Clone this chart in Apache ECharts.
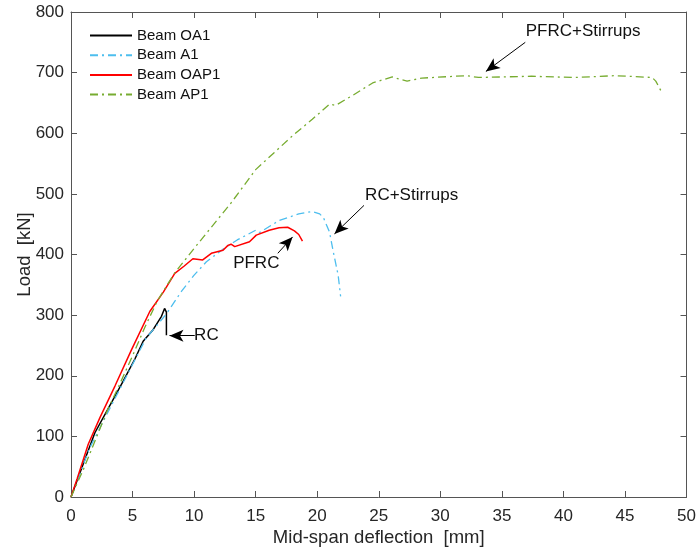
<!DOCTYPE html>
<html>
<head>
<meta charset="utf-8">
<script src="https://cdn.jsdelivr.net/npm/echarts@6/dist/echarts.min.js"></script>
<style>html,body{margin:0;padding:0;background:#fff}#c{width:699px;height:552px}</style>
</head>
<body>
<div id="c"></div>
<script>
// Beam OA1 (RC)
var oa1 = [[0,0],[1,55],[1.94,106],[3.43,161],[4.24,191],[5.2,228],[5.86,257],[6.67,276],[7.35,298],[7.6,311],[7.75,305],[7.75,267]];
// Beam A1 (RC + stirrups)
var a1 = [[0,0],[1.5,80],[3,140],[4.5,199],[6.1,262],[7.75,302],[9,340],[10,366],[11,388],[12.3,408],[13.5,424],[15,440],[15.3,436],[16.9,456],[18.5,467],[19.6,471],[20.2,467],[20.5,461],[21,437],[21.3,405],[21.7,366],[21.9,331]];
// Beam OAP1 (PFRC)
var oap1 = [[0,0],[0.5,30],[1.4,87],[2.35,131],[3.57,183],[4.92,243],[6.4,306],[7.5,338],[8.43,369],[9.2,381],[9.9,393],[10.7,391],[11.4,402],[12.35,407],[12.75,415],[13.0,417],[13.3,413],[14.5,421],[15.05,432],[16.1,440],[16.9,444],[17.6,445],[18.15,439],[18.5,433],[18.8,422]];
// Beam AP1 (PFRC + stirrups)
var ap1 = [[0,0],[1,45],[2,95],[3,145],[4,188],[5,233],[6,280],[7,323],[8.4,369],[10,410],[12,460],[13,485],[15,540],[16.5,568],[18,596],[19.6,623],[21,648],[21.5,646],[23,664],[24.5,683],[26.1,693],[26.7,689],[27.3,686],[28.5,691],[32.1,695],[33.1,692],[37.4,694],[41,692],[44.2,695],[47.2,692],[47.5,686],[48,667]];

var seriesNames = ['Beam OA1','Beam A1','Beam OAP1','Beam AP1'];
var xTicks = [0,5,10,15,20,25,30,35,40,45,50];
var yTicks = [0,100,200,300,400,500,600,700,800];

// annotations: text, text position, arrow tail, arrow head (data coords)
var annotTexts = ['RC','PFRC','RC+Stirrups','PFRC+Stirrups'];
var annotTextPos = [[10.0,266],[15.05,385],[27.67,498],[41.6,768]];
var annotAlign = ['left','center','center','center'];
var arrowTails = [[10.05,266],[16.8,402],[23.8,481],[36.9,750]];
var arrowHeads = [[8.0,266],[18.0,429],[21.4,434],[33.7,702]];

var chart = echarts.init(document.getElementById('c'), null, {renderer:'canvas'});
var FONT = '"Liberation Sans", Arial, Helvetica, sans-serif';
var axisCol = '#555';
var txtCol = '#262626';

function mkAxisX(pos, show){
  return {type:'value', min:xTicks[0], max:xTicks[xTicks.length-1], interval:xTicks[1]-xTicks[0], position:pos,
    axisLine:{show:true, onZero:false, lineStyle:{color:axisCol, width:1}},
    axisTick:{show:true, inside:true, length:6, lineStyle:{color:axisCol}},
    axisLabel:{show:show, color:txtCol, fontSize:17, fontFamily:FONT, margin:11},
    splitLine:{show:false},
    name: show ? 'Mid-span deflection  [mm]' : '', nameLocation:'middle', nameGap:31, nameMoveOverlap:false,
    nameTextStyle:{color:txtCol, fontSize:18.5, fontFamily:FONT}};
}
function mkAxisY(pos, show){
  return {type:'value', min:yTicks[0], max:yTicks[yTicks.length-1], interval:yTicks[1]-yTicks[0], position:pos,
    axisLine:{show:true, onZero:false, lineStyle:{color:axisCol, width:1}},
    axisTick:{show:true, inside:true, length:6, lineStyle:{color:axisCol}},
    axisLabel:{show:show, color:txtCol, fontSize:17, fontFamily:FONT, margin:7},
    splitLine:{show:false},
    name: show ? 'Load  [kN]' : '', nameLocation:'middle', nameGap:37, nameMoveOverlap:false,
    nameTextStyle:{color:txtCol, fontSize:18.5, fontFamily:FONT}};
}

var colors = ['#000000','#4DBEEE','#FF0000','#77AC30'];
var types = ['solid',[8,4,2,4],'solid',[8,4,2,4]];
var widths = [1.5,1.3,1.5,1.3];
var datas = [oa1,a1,oap1,ap1];

var series = datas.map(function(d,i){
  return {name:seriesNames[i], type:'line', data:d, symbol:'none', showSymbol:false,
    lineStyle:{color:colors[i], width:widths[i], type:types[i]}, itemStyle:{color:colors[i]},
    animation:false, z:3};
});

// annotation series
series.push({type:'line', data:[], silent:true, animation:false,
  markLine:{silent:true, animation:false, symbol:['none','arrow'], symbolSize:[9,14],
    lineStyle:{color:'#000', width:1, type:'solid'}, label:{show:false},
    data: arrowTails.map(function(t,i){ return [{coord:t},{coord:arrowHeads[i]}]; })},
  markPoint:{silent:true, animation:false, symbol:'circle', symbolSize:0,
    data: annotTexts.map(function(t,i){ return {coord:annotTextPos[i], name:t,
      label:{show:true, formatter:t, position:'inside', align:annotAlign[i], verticalAlign:'middle', color:'#111', fontSize:17, fontFamily:FONT}}; })}
});

chart.setOption({
  animation:false,
  backgroundColor:'#fff',
  grid:{left:71, right:11, top:12, bottom:52, containLabel:false},
  xAxis:[mkAxisX('bottom',true), mkAxisX('top',false)],
  yAxis:[mkAxisY('left',true), mkAxisY('right',false)],
  legend:{show:true, data:seriesNames, orient:'vertical', left:84, top:23, padding:5,
    itemWidth:42, itemHeight:14, itemGap:4.7, itemStyle:{opacity:0},
    textStyle:{color:'#111', fontSize:15, lineHeight:14, fontFamily:FONT}},
  series:series
});
</script>
</body>
</html>
